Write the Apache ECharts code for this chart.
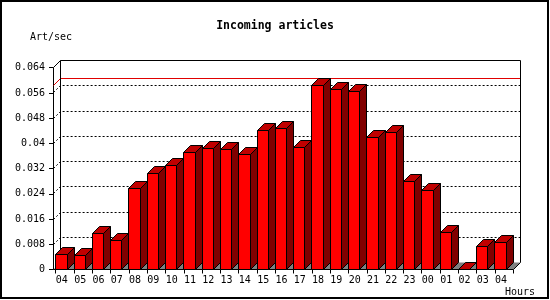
<!DOCTYPE html>
<html lang="en">
<head>
    <meta charset="UTF-8">
    <title>Incoming articles</title>
    <script src="https://cdn.jsdelivr.net/npm/echarts@6/dist/echarts.min.js"></script>
    <style>
        html, body { margin: 0; padding: 0; background: #fff; }
    </style>
</head>
<body>
<div id="main" style="width: 550px;height:300px;"></div>
<script type="text/javascript">
    // data
    var hours = ['04', '05', '06', '07', '08', '09', '10', '11', '12', '13', '14', '15', '16',
                 '17', '18', '19', '20', '21', '22', '23', '00', '01', '02', '03', '04'];
    var rates = [0.0049, 0.0043, 0.0115, 0.0093, 0.0258, 0.0306, 0.0331, 0.0372, 0.0383, 0.0382,
                 0.0366, 0.0440, 0.0446, 0.0388, 0.0583, 0.0572, 0.0566, 0.0420, 0.0433, 0.0280,
                 0.0252, 0.0118, 0, 0.0074, 0.0086];
    var yTicks = ['0', '0.008', '0.016', '0.024', '0.032', '0.04', '0.048', '0.056', '0.064'];
    var yStep = 0.008;
    var yMax = 0.064;

    var D = 7;          // 3d depth
    var SHIFT = 2.7;    // y axis sits a bit left of first band
    var FONT = 'DejaVu Sans Mono';

    function px(v) { return Math.round(v - 0.5) + 0.5; }

    function frameItem(params, api) {
        var cs = params.coordSys;
        var L = px(cs.x - SHIFT), R = px(cs.x + cs.width);
        var B = px(api.coord([0, 0])[1]);
        var kids = [];
        // floor
        kids.push({type: 'polygon', shape: {points: [[L, B], [R, B], [R + D, B - D], [L + D, B - D]]},
            style: {fill: '#808080', stroke: 'none'}});
        // grid lines on the back wall
        for (var i = 1; i < yTicks.length - 1; i++) {
            var y = px(api.coord([0, i * yStep])[1]);
            kids.push({type: 'polyline', shape: {points: [[L, y], [L + D, y - D], [R + D, y - D]]},
                style: {stroke: '#000', lineWidth: 1, lineDash: [2, 2], fill: null}});
        }
        var T = px(api.coord([0, yMax])[1]);
        // max line
        var m = Math.max.apply(null, rates);
        var ym = px(api.coord([0, m])[1]);
        kids.push({type: 'polyline', shape: {points: [[L, ym], [L + D, ym - D], [R + D, ym - D]]},
            style: {stroke: '#e00000', lineWidth: 1, fill: null}});
        // wall outline
        kids.push({type: 'polyline', shape: {points: [[L, T], [L + D, T - D], [R + D, T - D], [R + D, B - D], [R, B]]},
            style: {stroke: '#000', lineWidth: 1, fill: null}});
        kids.push({type: 'line', shape: {x1: L + D, y1: T - D, x2: L + D, y2: B - D},
            style: {stroke: '#000', lineWidth: 1}});
        kids.push({type: 'line', shape: {x1: L, y1: B, x2: R, y2: B},
            style: {stroke: '#000', lineWidth: 1}});
        return {type: 'group', children: kids};
    }

    function barItem(params, api) {
        var idx = api.value(0);
        var top = api.coord([idx, api.value(1)]);
        var base = api.coord([idx, 0]);
        var bw = api.size([1, 0])[0];
        var x0 = px(top[0] - bw / 2);
        var x1 = px(top[0] - bw / 2 + bw - D);
        var yt = px(top[1]), yb = px(base[1]);
        var st = {stroke: '#000', lineWidth: 1};
        return {
            type: 'group',
            children: [
                {type: 'polygon', shape: {points: [[x1, yt], [x1 + D, yt - D], [x1 + D, yb - D], [x1, yb]]},
                    style: Object.assign({fill: '#800000'}, st)},
                {type: 'polygon', shape: {points: [[x0, yt], [x1, yt], [x1 + D, yt - D], [x0 + D, yt - D]]},
                    style: Object.assign({fill: '#c00000'}, st)},
                {type: 'rect', shape: {x: x0, y: yt, width: x1 - x0, height: yb - yt},
                    style: Object.assign({fill: '#ff0000'}, st)}
            ]
        };
    }

    var myChart = echarts.init(document.getElementById('main'));

    var option = {
        animation: false,
        backgroundColor: '#fff',
        title: {
            text: 'Incoming articles',
            left: 'center',
            top: 20,
            padding: 0,
            textStyle: {fontFamily: FONT, fontSize: 11.5, fontWeight: 'bold', color: '#000'}
        },
        grid: {left: 55.7, right: 36.8, top: 67.7, bottom: 30.5, outerBoundsMode: 'none'},
        xAxis: {
            type: 'category',
            data: hours,
            axisLine: {show: false},
            axisTick: {show: true, length: 4, lineStyle: {color: '#000'}},
            axisLabel: {
                interval: 0, margin: 6, color: '#000', fontFamily: FONT, fontSize: 10,
                padding: [0, 6, 0, 0]
            },
            splitLine: {show: false}
        },
        yAxis: {
            type: 'value',
            min: 0,
            max: yMax,
            interval: yStep,
            offset: SHIFT,
            axisLine: {show: true, lineStyle: {color: '#000'}},
            axisTick: {show: true, length: 4, lineStyle: {color: '#000'}},
            axisLabel: {
                margin: 8, color: '#000', fontFamily: FONT, fontSize: 10,
                formatter: function (v, i) { return yTicks[i]; }
            },
            splitLine: {show: false}
        },
        graphic: [
            {type: 'text', left: 30, top: 32, style: {text: 'Art/sec', fill: '#000', font: '10px "DejaVu Sans Mono"'}},
            {type: 'text', left: 505, top: 287, style: {text: 'Hours', fill: '#000', font: '10px "DejaVu Sans Mono"'}},
            {type: 'rect', shape: {x: 1, y: 1, width: 547, height: 297}, style: {fill: 'none', stroke: '#000', lineWidth: 2}, z: 100}
        ],
        series: [
            {type: 'custom', z: 1, renderItem: frameItem, data: [[0, 0]], silent: true},
            {
                type: 'custom', z: 2, renderItem: barItem, silent: true,
                data: rates.map(function (v, i) { return [i, v]; })
            }
        ]
    };

    myChart.setOption(option);
</script>
</body>
</html>
